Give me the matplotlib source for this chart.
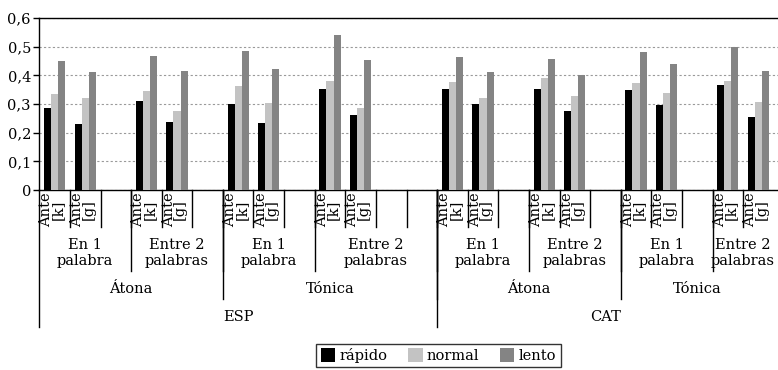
# Grouped bar chart with a four-level category axis (ESP / CAT)
import numpy as np
import matplotlib.pyplot as plt
from matplotlib.transforms import blended_transform_factory
from matplotlib.patches import Patch

plt.rcParams['font.family'] = ['DejaVu Serif']

# one entry per category slot on the x axis (empty slots are gaps)
slot_labels = ['Ante\n[k]', 'Ante\n[g]', '',
               'Ante\n[k]', 'Ante\n[g]', '',
               'Ante\n[k]', 'Ante\n[g]', '',
               'Ante\n[k]', 'Ante\n[g]', '', '',
               'Ante\n[k]', 'Ante\n[g]', '',
               'Ante\n[k]', 'Ante\n[g]', '',
               'Ante\n[k]', 'Ante\n[g]', '',
               'Ante\n[k]', 'Ante\n[g]']
N = np.nan
rapido = [0.285, 0.230, N, 0.309, 0.237, N, 0.301, 0.234, N, 0.351, 0.263, N, N,
          0.351, 0.299, N, 0.351, 0.277, N, 0.348, 0.298, N, 0.365, 0.255]
normal = [0.335, 0.321, N, 0.345, 0.276, N, 0.363, 0.302, N, 0.380, 0.286, N, N,
          0.377, 0.321, N, 0.391, 0.328, N, 0.373, 0.338, N, 0.380, 0.307]
lento = [0.450, 0.412, N, 0.467, 0.415, N, 0.485, 0.422, N, 0.541, 0.453, N, N,
         0.464, 0.412, N, 0.457, 0.400, N, 0.481, 0.440, N, 0.499, 0.415]

# higher category levels: labels and how many slots each one covers
level2_labels = ['En 1\npalabra', 'Entre 2\npalabras'] * 4
level2_sizes = [3, 3, 3, 4, 3, 3, 3, 2]
level3_labels = ['Átona', 'Tónica', 'Átona', 'Tónica']
level3_sizes = [6, 7, 6, 5]
level4_labels = ['ESP', 'CAT']
level4_sizes = [13, 11]

series = [('rápido', rapido, '#000000'),
          ('normal', normal, '#c3c3c3'),
          ('lento', lento, '#848484')]

W, H = 778, 370
fig = plt.figure(figsize=(W / 100, H / 100), dpi=100)
x0, ybot, ytop = 39.3, 190, 18
ax = fig.add_axes([x0 / W, 1 - ybot / H, 1 - x0 / W, (ybot - ytop) / H])

x = np.arange(len(slot_labels))
bw = 0.23
for k, (name, vals, col) in enumerate(series):
    ax.bar(x + (k - 1) * bw, vals, width=bw, color=col, label=name, zorder=3)

slot_px = 30.6
ax.set_xlim(-0.5, -0.5 + (W - x0) / slot_px)
ax.set_ylim(0, 0.6)
ax.set_yticks(np.arange(0, 0.61, 0.1))
ax.set_yticklabels(['0' if v == 0 else f'{v:.1f}'.replace('.', ',') for v in np.arange(0, 0.61, 0.1)],
                   fontsize=10.5)
ax.tick_params(axis='y', direction='out', length=4, width=1, pad=2)
ax.set_xticks([])
ax.yaxis.grid(True, linestyle=(0, (2, 2)), color='#9a9a9a', linewidth=0.8, zorder=0)
ax.spines['right'].set_visible(False)
for s in ['left', 'top', 'bottom']:
    ax.spines[s].set_linewidth(1.0)

tr = blended_transform_factory(ax.transData, fig.transFigure)
fy = lambda p: 1 - p / H

def sep(xpos, depth):
    ax.plot([xpos, xpos], [fy(ybot), fy(depth)], color='black', lw=1.0,
            transform=tr, clip_on=False)

# slot level
for i, lab in enumerate(slot_labels):
    if i > 0:
        sep(i - 0.5, 227)
    if lab:
        ax.text(i - 0.08, fy(210), lab, rotation=90, ha='center', va='center',
                multialignment='center', fontsize=10.5, linespacing=0.75,
                transform=tr)

def level(labels, sizes, depth, ytext):
    start = 0
    for lab, n in zip(labels, sizes):
        if start > 0:
            sep(start - 0.5, depth)
        ax.text(start + (n - 1) / 2, fy(ytext), lab, ha='center', va='center',
                fontsize=10.5, linespacing=1.1, transform=tr)
        start += n

level(level2_labels, level2_sizes, 271, 253)
level(level3_labels, level3_sizes, 299, 289)
level(level4_labels, level4_sizes, 327, 317)
sep(-0.5, 327)

handles = [Patch(facecolor=c, edgecolor='none') for _, _, c in series]
fig.legend(handles, [s[0] for s in series], loc='center', ncol=3,
           bbox_to_anchor=(438.5 / W, fy(355.5)), frameon=True, fancybox=False,
           edgecolor='black', fontsize=10.5, handlelength=1.0, handleheight=1.0,
           handletextpad=0.3, columnspacing=1.4, borderpad=0.3)

fig.savefig('out.png', dpi=100)
